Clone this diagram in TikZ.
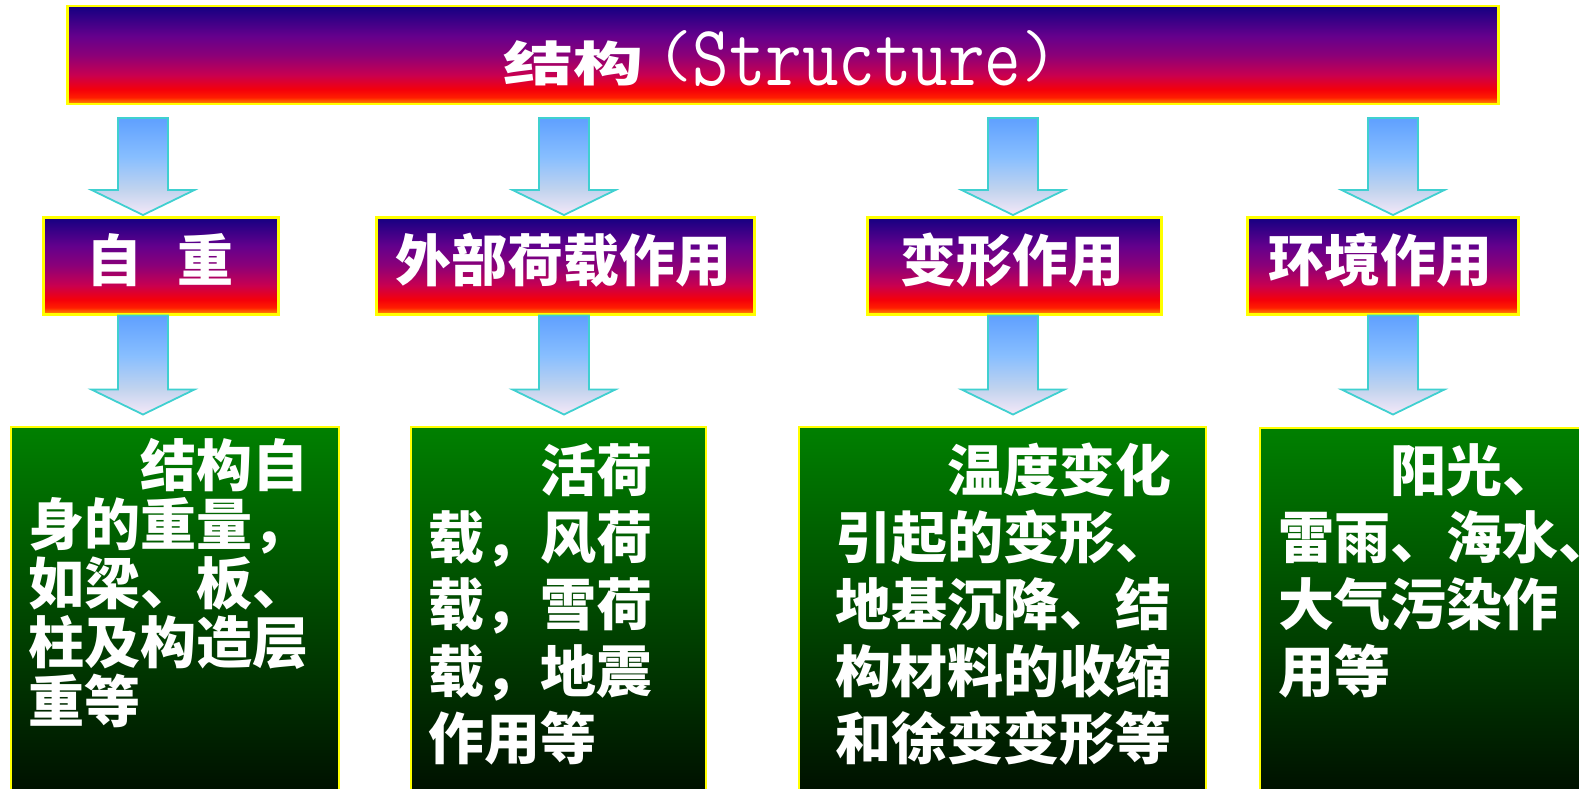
\documentclass[tikz,border=0pt]{standalone}
\usepackage{fontspec}
\usepackage{graphicx}
\newfontfamily\cjk{Noto Sans CJK SC}
\usetikzlibrary{calc}

\definecolor{barA}{RGB}{20,0,130}
\definecolor{barB}{RGB}{100,0,140}
\definecolor{barC}{RGB}{140,0,120}
\definecolor{barD}{RGB}{200,0,80}
\definecolor{barE}{RGB}{245,0,10}
\definecolor{barF}{RGB}{255,30,0}
\definecolor{barG}{RGB}{255,150,0}
\definecolor{arrA}{RGB}{95,160,255}
\definecolor{arrB}{RGB}{135,190,255}
\definecolor{arrC}{RGB}{195,212,238}
\definecolor{arrD}{RGB}{245,232,248}
\definecolor{arrline}{RGB}{64,208,208}
\definecolor{grnTop}{RGB}{0,128,0}
\definecolor{grnBot}{RGB}{0,12,0}
\definecolor{edgeY}{RGB}{255,255,0}

\pgfdeclareverticalshading{barshade}{100bp}{color(0bp)=(barG); color(25bp)=(barG); color(28.5bp)=(barF); color(32.5bp)=(barE); color(40bp)=(barD); color(50bp)=(barC); color(60bp)=(barB); color(75bp)=(barA); color(100bp)=(barA)}
\pgfdeclareverticalshading{arrowshade}{100bp}{color(0bp)=(arrD); color(25bp)=(arrD); color(37.5bp)=(arrC); color(55bp)=(arrB); color(75bp)=(arrA); color(100bp)=(arrA)}

\tikzset{
  barbox/.style={rectangle, anchor=north west, inner sep=0pt, draw=edgeY, line width=2.5pt, shading=barshade},
  greenbox/.style={rectangle, anchor=north west, inner sep=0pt, draw=edgeY, line width=1.5pt, top color=grnTop, bottom color=grnBot},
  midtext/.style={anchor=base, inner sep=0pt, text=white, font=\cjk\bfseries\fontsize{56}{60}\selectfont},
  bodytext/.style={anchor=north west, inner sep=0pt, align=left, text=white, font=\cjk\bfseries\fontsize{56}{67}\selectfont},
  blockarrow/.style={draw=arrline, line width=1.8pt, shading=arrowshade, line join=miter},
  pics/downarrow/.style={code={
    \path[blockarrow] (-25,0) -- (25,0) -- (25,{#1-25}) -- (51.5,{#1-25}) -- (0,#1) -- (-51.5,{#1-25}) -- (-25,{#1-25}) -- cycle;
  }}
}

\begin{document}
\begin{tikzpicture}[x=1pt,y=-1pt]
\useasboundingbox (0,0) rectangle (1579,789);

% top bar
\node[barbox, minimum width=1431pt, minimum height=98pt] (top) at (66,5) {};
\node[anchor=base west, inner sep=0pt, text=white] (titlecn) at (503,86)
  {\raisebox{4pt}{\scalebox{1.06}[0.72]{\fontsize{66}{70}\selectfont\cjk\bfseries 结构}}};
\node[anchor=base west, inner sep=0pt, text=white] (titleen) at (656,86)
  {\fontsize{72}{80}\selectfont\ttfamily\scalebox{0.985}[1]{\raisebox{9pt}{\scalebox{1}[0.92]{(}}\scalebox{1}[1.2]{Structure}\raisebox{9pt}{\scalebox{1}[0.92]{)}}}};

% middle boxes
\node[barbox, minimum width=235pt, minimum height=97pt] (m1) at (42,216) {};
\node[barbox, minimum width=378pt, minimum height=97pt] (m2) at (375,216) {};
\node[barbox, minimum width=294pt, minimum height=97pt] (m3) at (866,216) {};
\node[barbox, minimum width=271pt, minimum height=97pt] (m4) at (1246,216) {};
\node[midtext] (m1t) at (160,281) {自\hspace{35pt}重};
\node[midtext] (m2t) at (563,281) {外部荷载作用};
\node[midtext] (m3t) at (1012,281) {变形作用};
\node[midtext] (m4t) at (1380,281) {环境作用};

% bottom boxes
\node[greenbox, minimum width=328pt, minimum height=380pt] (b1) at (10,426) {};
\node[greenbox, minimum width=295pt, minimum height=380pt] (b2) at (410,426) {};
\node[greenbox, minimum width=407pt, minimum height=380pt] (b3) at (798,426) {};
\node[greenbox, minimum width=400pt, minimum height=380pt] (b4) at (1259,427) {};

\node[bodytext, font=\cjk\bfseries\fontsize{56}{59}\selectfont] (b1t) at (28,436)
  {\rule{0pt}{50pt}\hspace*{112pt}结构自\\身的重量，\\如梁、板、\\柱及构造层\\重等};
\node[bodytext] (b2t) at (428,441)
  {\rule{0pt}{50pt}\hspace*{112pt}活荷\\载，风荷\\载，雪荷\\载，地震\\作用等};
\node[bodytext] (b3t) at (835,441)
  {\rule{0pt}{50pt}\hspace*{112pt}温度变化\\引起的变形、\\地基沉降、结\\构材料的收缩\\和徐变变形等};
\node[bodytext] (b4t) at (1278,441)
  {\rule{0pt}{50pt}\hspace*{112pt}阳光、\\雷雨、海水、\\大气污染作\\用等};

% arrows: top bar -> middle boxes
\coordinate (u1) at (143,118);
\coordinate (u2) at (564,118);
\coordinate (u3) at (1013,118);
\coordinate (u4) at (1393,118);
\pic at (u1) {downarrow=97};
\pic at (u2) {downarrow=97};
\pic at (u3) {downarrow=97};
\pic at (u4) {downarrow=97};

% arrows: middle boxes -> bottom boxes
\coordinate (d1) at (m1.south -| u1);
\coordinate (d2) at (m2.south -| u2);
\coordinate (d3) at (m3.south -| u3);
\coordinate (d4) at (m4.south -| u4);
\pic at (d1) {downarrow=99};
\pic at (d2) {downarrow=99};
\pic at (d3) {downarrow=99};
\pic at (d4) {downarrow=99};
\end{tikzpicture}
\end{document}
